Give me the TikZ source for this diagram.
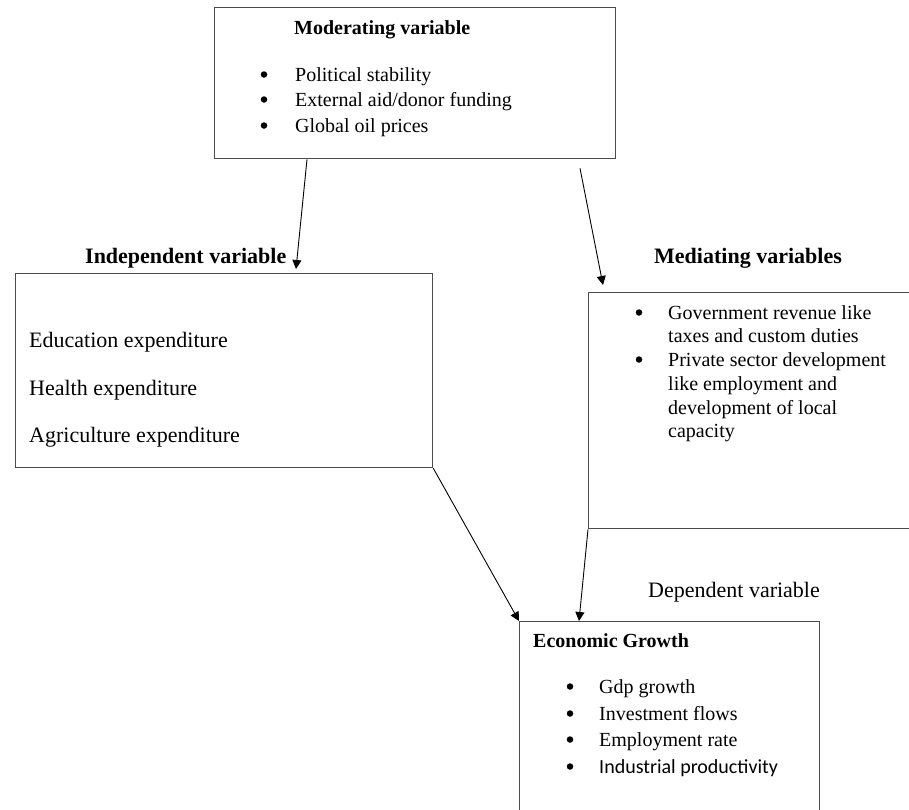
\documentclass[tikz,border=0pt]{standalone}
\usepackage{fontspec}
\setmainfont{Liberation Serif}
\newfontfamily\CalFont{Carlito}
\usetikzlibrary{arrows.meta}
\tikzstyle{Box}=[rectangle,draw=black!70,line width=1.3pt,anchor=north west,
inner sep=0pt]
\tikzstyle{Arrow}=[draw=black,line width=0.9pt,-{Triangle[length=9pt,width=9pt]}]
\tikzstyle{Txt}=[anchor=base west,inner sep=0pt,font=\fontsize{20}{24}\selectfont]
\tikzstyle{TxtB}=[anchor=base west,inner sep=0pt,
font=\bfseries\fontsize{20}{24}\selectfont]
\tikzstyle{TxtL}=[anchor=base west,inner sep=0pt,font=\fontsize{22}{26}\selectfont]
\tikzstyle{TxtLB}=[anchor=base west,inner sep=0pt,
font=\bfseries\fontsize{22}{26}\selectfont]
\tikzstyle{Bul}=[circle,fill=black,inner sep=0pt,minimum size=6.5pt,yshift=6.5pt]

\begin{document}
\begin{tikzpicture}[x=1pt,y=-1pt]
        \useasboundingbox(0,0)rectangle(909,809);
        \clip(0,0)rectangle(909,809);
        \node[Box,minimum width=401pt,minimum height=151pt](mod)at(214,7){};
        \node[Box,minimum width=417pt,minimum height=194pt](ind)at(15,273){};
        \node[Box,minimum width=340pt,minimum height=236pt](med)at(588,292){};
        \node[Box,minimum width=300pt,minimum height=210pt](eco)at(519,621){};
        \node[TxtB](modT)at(294,34){Moderating variable};
        \node[Bul](modB1)at(264,81){};
        \node[Txt](modI1)at(295,81){Political stability};
        \node[Bul](modB2)at(264,106){};
        \node[Txt](modI2)at(295,106){External aid/donor funding};
        \node[Bul](modB3)at(264,132){};
        \node[Txt](modI3)at(295,132){Global oil prices};
        \node[TxtLB](indT)at(85,263){Independent variable};
        \node[TxtL](indI1)at(29,347){Education expenditure};
        \node[TxtL](indI2)at(29,395){Health expenditure};
        \node[TxtL](indI3)at(29,442){Agriculture expenditure};
        \node[TxtLB](medT)at(654,263){Mediating variables};
        \node[Bul](medB1)at(639,319){};
        \node[Txt](medI1a)at(668,319){Government revenue like};
        \node[Txt](medI1b)at(668,342){taxes and custom duties};
        \node[Bul](medB2)at(639,366){};
        \node[Txt](medI2a)at(668,366){Private sector development};
        \node[Txt](medI2b)at(668,390){like employment and};
        \node[Txt](medI2c)at(668,414){development of local};
        \node[Txt](medI2d)at(668,437){capacity};
        \node[TxtL](depT)at(648,597){Dependent variable};
        \node[TxtB](ecoT)at(533,647){Economic Growth};
        \node[Bul](ecoB1)at(570,693){};
        \node[Txt](ecoI1)at(599,693){Gdp growth};
        \node[Bul](ecoB2)at(570,720){};
        \node[Txt](ecoI2)at(599,720){Investment flows};
        \node[Bul](ecoB3)at(570,746){};
        \node[Txt](ecoI3)at(599,746){Employment rate};
        \node[Bul](ecoB4)at(570,773){};
        \node[Txt,font=\CalFont\fontsize{20}{24}\selectfont](ecoI4)at(599,773){Industrial productivity};
        \coordinate(m1)at([xshift=93pt]mod.south west);
        \coordinate(m2)at([xshift=366pt,yshift=-9pt]mod.south west);
        \coordinate(i1)at([xshift=281pt,yshift=4pt]ind.north west);
        \coordinate(d1)at([xshift=15pt,yshift=7pt]med.north west);
        \coordinate(e1)at([xshift=60pt]eco.north west);
        \draw[Arrow](m1)--(i1);
        \draw[Arrow](m2)--(d1);
        \draw[Arrow](ind.south east)--(eco.north west);
        \draw[Arrow](med.south west)--(e1);
    \end{tikzpicture}
\end{document}
